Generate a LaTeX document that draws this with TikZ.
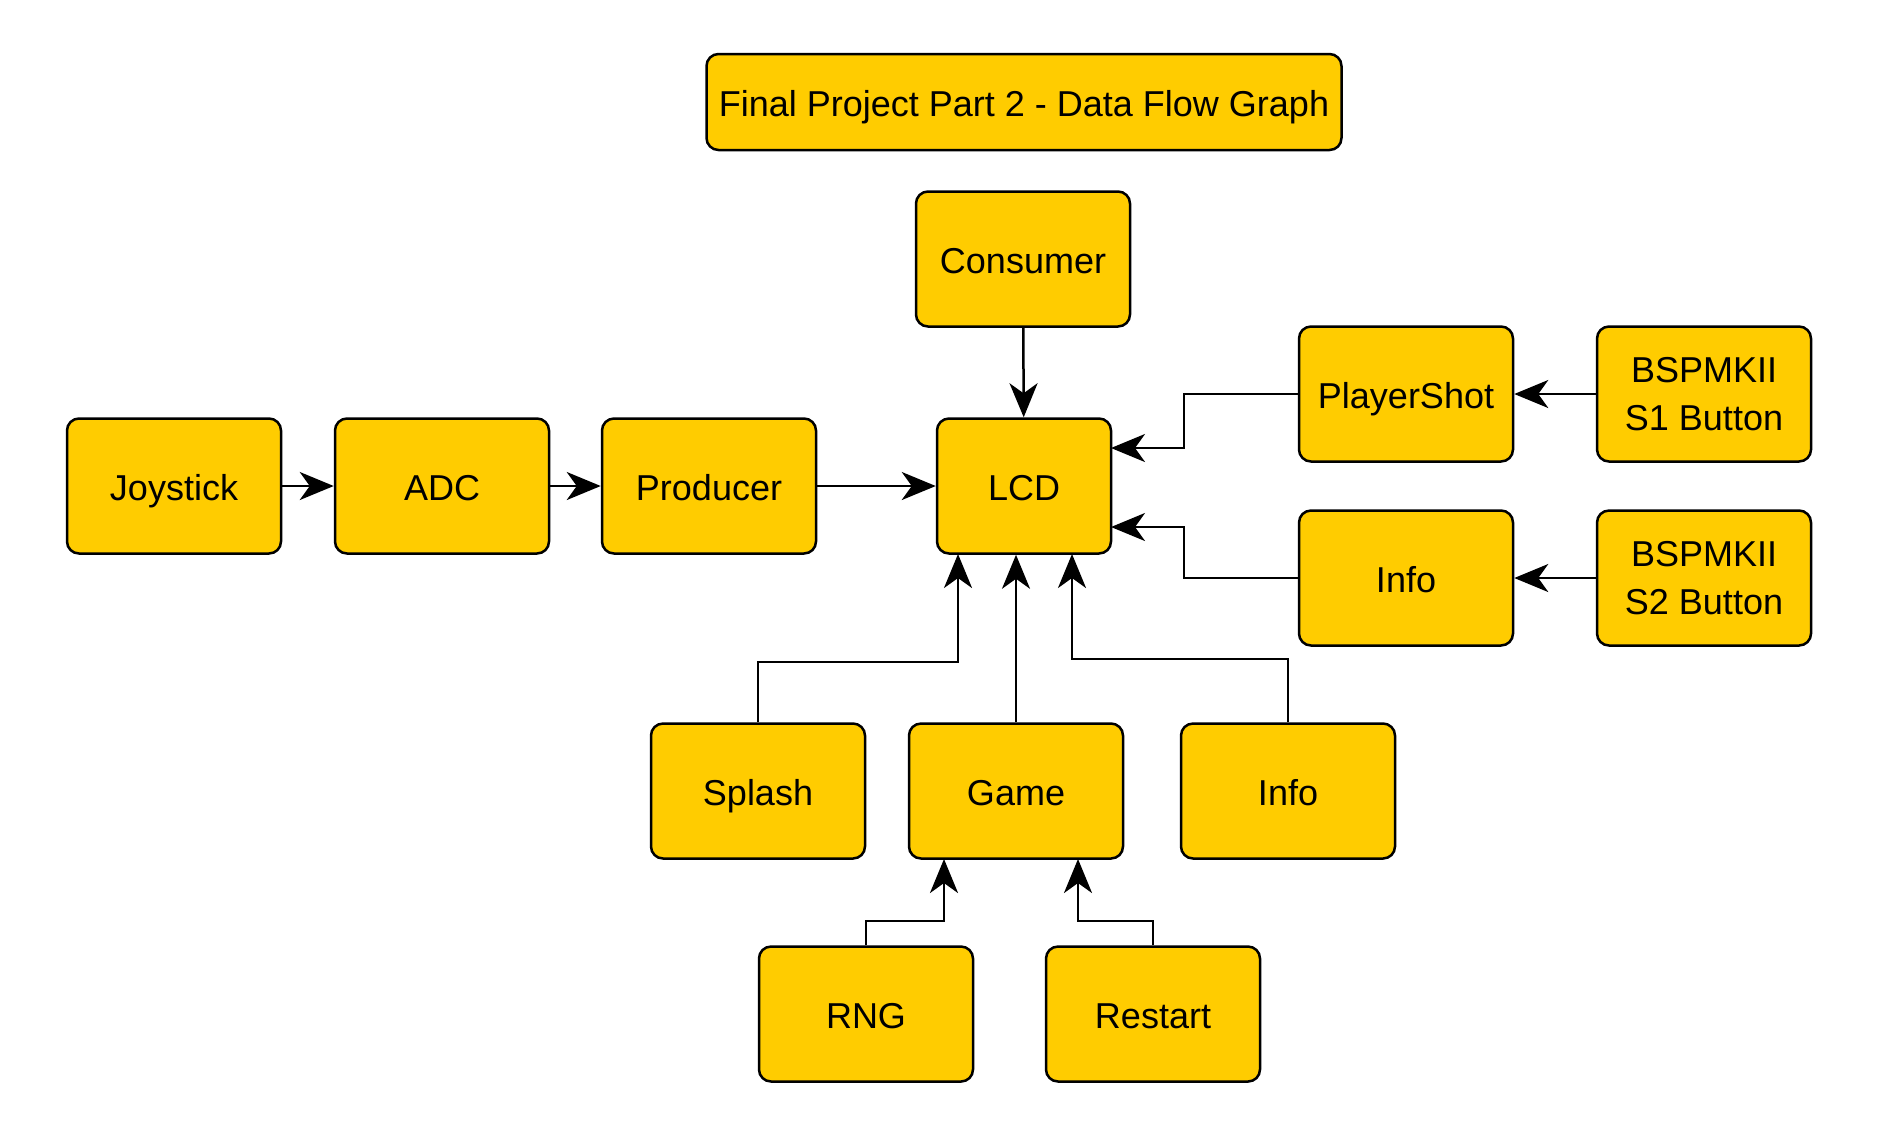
\documentclass[tikz,border=0pt]{standalone}
\usepackage{fontspec}
\setmainfont{Liberation Sans}
\usepackage{tikz}
\usetikzlibrary{arrows.meta}
\definecolor{boxyellow}{HTML}{FFCC00}
\tikzset{
    block/.style={draw=black, fill=boxyellow, line width=1.25pt, rounded corners=6pt,
        minimum width=107pt, minimum height=67.5pt, align=center,
        font=\fontsize{18}{24}\selectfont, inner sep=2pt,
        text height=16pt, text depth=1.8pt},
    stack/.style={text height=, text depth=},
    flow/.style={line width=1.25pt, -{Stealth[length=17pt, width=14pt, inset=5pt]}}
}

\begin{document}
\begin{tikzpicture}[x=0.5pt, y=-0.5pt]
                \useasboundingbox (0,0) rectangle (1883,1132);
                % title
                \node[block, minimum width=317.5pt, minimum height=48pt] (title) at (1024,102) {Final Project Part 2 - Data Flow Graph};
                % top row
                \node[block] (consumer) at (1023,259) {Consumer};
                \node[block] (playershot) at (1406,394) {PlayerShot};
                \node[block, stack] (sone) at (1704,394) {BSPMKII\\S1 Button};
                % middle row
                \node[block] (joystick) at (174,486) {Joystick};
                \node[block] (adc) at (442,486) {ADC};
                \node[block] (producer) at (709,486) {Producer};
                \node[block, minimum width=87pt] (lcd) at (1024,486) {LCD};
                \node[block] (inforight) at (1406,578) {Info};
                \node[block, stack] (stwo) at (1704,578) {BSPMKII\\S2 Button};
                % bottom rows
                \node[block] (splash) at (758,791) {Splash};
                \node[block] (game) at (1016,791) {Game};
                \node[block] (infobottom) at (1288,791) {Info};
                \node[block] (rng) at (866,1014) {RNG};
                \node[block] (restart) at (1153,1014) {Restart};
                % entry points
                \coordinate (lcdps) at (1111,448);
                \coordinate (lcdinfo) at (1111,527);
                \coordinate (lcdsplash) at (958,554);
                \coordinate (lcdinfob) at (1072,554);
                \coordinate (gamerng) at (944,859);
                \coordinate (gamerestart) at (1078,859);
                % connectors
                \draw[flow] (joystick) -- (adc);
                \draw[flow] (adc) -- (producer);
                \draw[flow] (producer) -- (lcd);
                \draw[flow] (consumer) -- (lcd);
                \draw[flow] (sone) -- (playershot);
                \draw[flow] (stwo) -- (inforight);
                \draw[flow] (playershot.west) -- ++(-114,0) |- (lcdps);
                \draw[flow] (inforight.west) -- ++(-114,0) |- (lcdinfo);
                \draw[flow] (splash.north) |- (958,662) -- (lcdsplash);
                \draw[flow] (game.north) -- (game.north |- lcd.south);
                \draw[flow] (infobottom.north) |- (1072,659) -- (lcdinfob);
                \draw[flow] (rng.north) |- (944,921) -- (gamerng);
                \draw[flow] (restart.north) |- (1078,921) -- (gamerestart);
            \end{tikzpicture}
\end{document}
